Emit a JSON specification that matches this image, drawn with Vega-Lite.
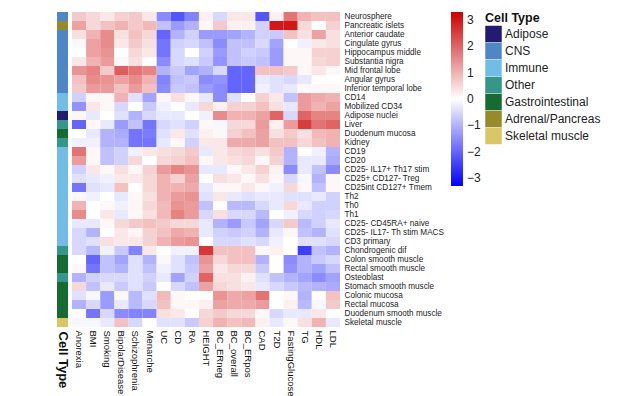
{
"$schema": "https://vega.github.io/schema/vega-lite/v6.json",
"padding": {"left": 55, "top": 11, "right": 0, "bottom": 0},
"background": "white",
"bounds": "flush",
"config": {"view": {"stroke": null}, "font": "Liberation Sans", "concat": {"spacing": 4}},
"datasets": {
"types": [
{"tissue":"Neurosphere","type":"CNS"},
{"tissue":"Pancreatic islets","type":"Adrenal/Pancreas"},
{"tissue":"Anterior caudate","type":"CNS"},
{"tissue":"Cingulate gyrus","type":"CNS"},
{"tissue":"Hippocampus middle","type":"CNS"},
{"tissue":"Substantia nigra","type":"CNS"},
{"tissue":"Mid frontal lobe","type":"CNS"},
{"tissue":"Angular gyrus","type":"CNS"},
{"tissue":"Inferior temporal lobe","type":"CNS"},
{"tissue":"CD14","type":"Immune"},
{"tissue":"Mobilized CD34","type":"Immune"},
{"tissue":"Adipose nuclei","type":"Adipose"},
{"tissue":"Liver","type":"Other"},
{"tissue":"Duodenum mucosa","type":"Gastrointestinal"},
{"tissue":"Kidney","type":"Other"},
{"tissue":"CD19","type":"Immune"},
{"tissue":"CD20","type":"Immune"},
{"tissue":"CD25- IL17+ Th17 stim","type":"Immune"},
{"tissue":"CD25+ CD127- Treg","type":"Immune"},
{"tissue":"CD25int CD127+ Tmem","type":"Immune"},
{"tissue":"Th2","type":"Immune"},
{"tissue":"Th0","type":"Immune"},
{"tissue":"Th1","type":"Immune"},
{"tissue":"CD25- CD45RA+ naive","type":"Immune"},
{"tissue":"CD25- IL17- Th stim MACS","type":"Immune"},
{"tissue":"CD3 primary","type":"Immune"},
{"tissue":"Chondrogenic dif","type":"Other"},
{"tissue":"Colon smooth muscle","type":"Gastrointestinal"},
{"tissue":"Rectal smooth muscle","type":"Gastrointestinal"},
{"tissue":"Osteoblast","type":"Other"},
{"tissue":"Stomach smooth muscle","type":"Gastrointestinal"},
{"tissue":"Colonic mucosa","type":"Gastrointestinal"},
{"tissue":"Rectal mucosa","type":"Gastrointestinal"},
{"tissue":"Duodenum smooth muscle","type":"Gastrointestinal"},
{"tissue":"Skeletal muscle","type":"Skeletal muscle"}
],
"cells": [
{"tissue":"Neurosphere","trait":"Anorexia","z":0.7},{"tissue":"Neurosphere","trait":"BMI","z":0.5},{"tissue":"Neurosphere","trait":"Smoking","z":0.3},{"tissue":"Neurosphere","trait":"BipolarDisease","z":0.6},{"tissue":"Neurosphere","trait":"Schizophrenia","z":0.7},{"tissue":"Neurosphere","trait":"Menarche","z":0.3},{"tissue":"Neurosphere","trait":"UC","z":-1.5},{"tissue":"Neurosphere","trait":"CD","z":-2.2},{"tissue":"Neurosphere","trait":"RA","z":-1.6},{"tissue":"Neurosphere","trait":"HEIGHT","z":0.2},{"tissue":"Neurosphere","trait":"BC_ERneg","z":-0.5},{"tissue":"Neurosphere","trait":"BC_overall","z":0.3},{"tissue":"Neurosphere","trait":"BC_ERpos","z":0.3},{"tissue":"Neurosphere","trait":"CAD","z":-2.2},{"tissue":"Neurosphere","trait":"T2D","z":0.2},{"tissue":"Neurosphere","trait":"FastingGlucose","z":1.8},{"tissue":"Neurosphere","trait":"TG","z":1.0},{"tissue":"Neurosphere","trait":"HDL","z":0.8},{"tissue":"Neurosphere","trait":"LDL","z":0.8},
{"tissue":"Pancreatic islets","trait":"Anorexia","z":1.2},{"tissue":"Pancreatic islets","trait":"BMI","z":0.5},{"tissue":"Pancreatic islets","trait":"Smoking","z":0.8},{"tissue":"Pancreatic islets","trait":"BipolarDisease","z":1.0},{"tissue":"Pancreatic islets","trait":"Schizophrenia","z":0.7},{"tissue":"Pancreatic islets","trait":"Menarche","z":0.9},{"tissue":"Pancreatic islets","trait":"UC","z":-0.8},{"tissue":"Pancreatic islets","trait":"CD","z":-1.3},{"tissue":"Pancreatic islets","trait":"RA","z":-1.0},{"tissue":"Pancreatic islets","trait":"HEIGHT","z":0.1},{"tissue":"Pancreatic islets","trait":"BC_ERneg","z":0.7},{"tissue":"Pancreatic islets","trait":"BC_overall","z":0.2},{"tissue":"Pancreatic islets","trait":"BC_ERpos","z":0.2},{"tissue":"Pancreatic islets","trait":"CAD","z":-0.6},{"tissue":"Pancreatic islets","trait":"T2D","z":3.0},{"tissue":"Pancreatic islets","trait":"FastingGlucose","z":3.0},{"tissue":"Pancreatic islets","trait":"TG","z":0.5},{"tissue":"Pancreatic islets","trait":"HDL","z":0.0},{"tissue":"Pancreatic islets","trait":"LDL","z":0.6},
{"tissue":"Anterior caudate","trait":"Anorexia","z":0.4},{"tissue":"Anterior caudate","trait":"BMI","z":1.0},{"tissue":"Anterior caudate","trait":"Smoking","z":1.5},{"tissue":"Anterior caudate","trait":"BipolarDisease","z":0.4},{"tissue":"Anterior caudate","trait":"Schizophrenia","z":0.8},{"tissue":"Anterior caudate","trait":"Menarche","z":0.5},{"tissue":"Anterior caudate","trait":"UC","z":-2.0},{"tissue":"Anterior caudate","trait":"CD","z":-1.0},{"tissue":"Anterior caudate","trait":"RA","z":-0.6},{"tissue":"Anterior caudate","trait":"HEIGHT","z":-1.3},{"tissue":"Anterior caudate","trait":"BC_ERneg","z":-1.3},{"tissue":"Anterior caudate","trait":"BC_overall","z":-1.2},{"tissue":"Anterior caudate","trait":"BC_ERpos","z":-1.0},{"tissue":"Anterior caudate","trait":"CAD","z":-0.6},{"tissue":"Anterior caudate","trait":"T2D","z":-0.7},{"tissue":"Anterior caudate","trait":"FastingGlucose","z":0.8},{"tissue":"Anterior caudate","trait":"TG","z":0.4},{"tissue":"Anterior caudate","trait":"HDL","z":1.2},{"tissue":"Anterior caudate","trait":"LDL","z":0.4},
{"tissue":"Cingulate gyrus","trait":"Anorexia","z":0.1},{"tissue":"Cingulate gyrus","trait":"BMI","z":1.2},{"tissue":"Cingulate gyrus","trait":"Smoking","z":1.5},{"tissue":"Cingulate gyrus","trait":"BipolarDisease","z":0.3},{"tissue":"Cingulate gyrus","trait":"Schizophrenia","z":0.7},{"tissue":"Cingulate gyrus","trait":"Menarche","z":0.4},{"tissue":"Cingulate gyrus","trait":"UC","z":-1.8},{"tissue":"Cingulate gyrus","trait":"CD","z":-0.6},{"tissue":"Cingulate gyrus","trait":"RA","z":-0.5},{"tissue":"Cingulate gyrus","trait":"HEIGHT","z":-0.8},{"tissue":"Cingulate gyrus","trait":"BC_ERneg","z":-1.5},{"tissue":"Cingulate gyrus","trait":"BC_overall","z":-0.8},{"tissue":"Cingulate gyrus","trait":"BC_ERpos","z":-0.8},{"tissue":"Cingulate gyrus","trait":"CAD","z":-0.5},{"tissue":"Cingulate gyrus","trait":"T2D","z":-1.2},{"tissue":"Cingulate gyrus","trait":"FastingGlucose","z":0.0},{"tissue":"Cingulate gyrus","trait":"TG","z":-0.2},{"tissue":"Cingulate gyrus","trait":"HDL","z":0.3},{"tissue":"Cingulate gyrus","trait":"LDL","z":0.4},
{"tissue":"Hippocampus middle","trait":"Anorexia","z":0.0},{"tissue":"Hippocampus middle","trait":"BMI","z":1.2},{"tissue":"Hippocampus middle","trait":"Smoking","z":1.4},{"tissue":"Hippocampus middle","trait":"BipolarDisease","z":0.0},{"tissue":"Hippocampus middle","trait":"Schizophrenia","z":0.5},{"tissue":"Hippocampus middle","trait":"Menarche","z":0.3},{"tissue":"Hippocampus middle","trait":"UC","z":-1.8},{"tissue":"Hippocampus middle","trait":"CD","z":-0.5},{"tissue":"Hippocampus middle","trait":"RA","z":0.0},{"tissue":"Hippocampus middle","trait":"HEIGHT","z":-0.6},{"tissue":"Hippocampus middle","trait":"BC_ERneg","z":-1.3},{"tissue":"Hippocampus middle","trait":"BC_overall","z":-0.8},{"tissue":"Hippocampus middle","trait":"BC_ERpos","z":-0.6},{"tissue":"Hippocampus middle","trait":"CAD","z":-0.7},{"tissue":"Hippocampus middle","trait":"T2D","z":-1.3},{"tissue":"Hippocampus middle","trait":"FastingGlucose","z":0.1},{"tissue":"Hippocampus middle","trait":"TG","z":0.1},{"tissue":"Hippocampus middle","trait":"HDL","z":0.6},{"tissue":"Hippocampus middle","trait":"LDL","z":0.6},
{"tissue":"Substantia nigra","trait":"Anorexia","z":0.3},{"tissue":"Substantia nigra","trait":"BMI","z":1.0},{"tissue":"Substantia nigra","trait":"Smoking","z":1.3},{"tissue":"Substantia nigra","trait":"BipolarDisease","z":0.1},{"tissue":"Substantia nigra","trait":"Schizophrenia","z":0.4},{"tissue":"Substantia nigra","trait":"Menarche","z":0.0},{"tissue":"Substantia nigra","trait":"UC","z":-1.5},{"tissue":"Substantia nigra","trait":"CD","z":-0.5},{"tissue":"Substantia nigra","trait":"RA","z":-0.4},{"tissue":"Substantia nigra","trait":"HEIGHT","z":-0.7},{"tissue":"Substantia nigra","trait":"BC_ERneg","z":-1.4},{"tissue":"Substantia nigra","trait":"BC_overall","z":-0.8},{"tissue":"Substantia nigra","trait":"BC_ERpos","z":-0.7},{"tissue":"Substantia nigra","trait":"CAD","z":-0.8},{"tissue":"Substantia nigra","trait":"T2D","z":-1.3},{"tissue":"Substantia nigra","trait":"FastingGlucose","z":0.1},{"tissue":"Substantia nigra","trait":"TG","z":0.1},{"tissue":"Substantia nigra","trait":"HDL","z":0.5},{"tissue":"Substantia nigra","trait":"LDL","z":0.6},
{"tissue":"Mid frontal lobe","trait":"Anorexia","z":1.4},{"tissue":"Mid frontal lobe","trait":"BMI","z":1.6},{"tissue":"Mid frontal lobe","trait":"Smoking","z":0.7},{"tissue":"Mid frontal lobe","trait":"BipolarDisease","z":2.1},{"tissue":"Mid frontal lobe","trait":"Schizophrenia","z":1.8},{"tissue":"Mid frontal lobe","trait":"Menarche","z":1.6},{"tissue":"Mid frontal lobe","trait":"UC","z":-1.0},{"tissue":"Mid frontal lobe","trait":"CD","z":-0.7},{"tissue":"Mid frontal lobe","trait":"RA","z":-1.2},{"tissue":"Mid frontal lobe","trait":"HEIGHT","z":-1.0},{"tissue":"Mid frontal lobe","trait":"BC_ERneg","z":-0.5},{"tissue":"Mid frontal lobe","trait":"BC_overall","z":-2.0},{"tissue":"Mid frontal lobe","trait":"BC_ERpos","z":-2.0},{"tissue":"Mid frontal lobe","trait":"CAD","z":0.8},{"tissue":"Mid frontal lobe","trait":"T2D","z":0.8},{"tissue":"Mid frontal lobe","trait":"FastingGlucose","z":0.7},{"tissue":"Mid frontal lobe","trait":"TG","z":0.1},{"tissue":"Mid frontal lobe","trait":"HDL","z":0.3},{"tissue":"Mid frontal lobe","trait":"LDL","z":0.1},
{"tissue":"Angular gyrus","trait":"Anorexia","z":0.8},{"tissue":"Angular gyrus","trait":"BMI","z":1.5},{"tissue":"Angular gyrus","trait":"Smoking","z":1.4},{"tissue":"Angular gyrus","trait":"BipolarDisease","z":1.2},{"tissue":"Angular gyrus","trait":"Schizophrenia","z":1.5},{"tissue":"Angular gyrus","trait":"Menarche","z":1.0},{"tissue":"Angular gyrus","trait":"UC","z":-1.6},{"tissue":"Angular gyrus","trait":"CD","z":-0.8},{"tissue":"Angular gyrus","trait":"RA","z":-0.7},{"tissue":"Angular gyrus","trait":"HEIGHT","z":-1.5},{"tissue":"Angular gyrus","trait":"BC_ERneg","z":-1.4},{"tissue":"Angular gyrus","trait":"BC_overall","z":-2.0},{"tissue":"Angular gyrus","trait":"BC_ERpos","z":-2.0},{"tissue":"Angular gyrus","trait":"CAD","z":-0.3},{"tissue":"Angular gyrus","trait":"T2D","z":-0.4},{"tissue":"Angular gyrus","trait":"FastingGlucose","z":-0.5},{"tissue":"Angular gyrus","trait":"TG","z":-0.3},{"tissue":"Angular gyrus","trait":"HDL","z":0.0},{"tissue":"Angular gyrus","trait":"LDL","z":0.0},
{"tissue":"Inferior temporal lobe","trait":"Anorexia","z":0.7},{"tissue":"Inferior temporal lobe","trait":"BMI","z":1.3},{"tissue":"Inferior temporal lobe","trait":"Smoking","z":1.3},{"tissue":"Inferior temporal lobe","trait":"BipolarDisease","z":0.8},{"tissue":"Inferior temporal lobe","trait":"Schizophrenia","z":1.3},{"tissue":"Inferior temporal lobe","trait":"Menarche","z":0.8},{"tissue":"Inferior temporal lobe","trait":"UC","z":-1.5},{"tissue":"Inferior temporal lobe","trait":"CD","z":-0.7},{"tissue":"Inferior temporal lobe","trait":"RA","z":-0.8},{"tissue":"Inferior temporal lobe","trait":"HEIGHT","z":-1.3},{"tissue":"Inferior temporal lobe","trait":"BC_ERneg","z":-1.5},{"tissue":"Inferior temporal lobe","trait":"BC_overall","z":-2.0},{"tissue":"Inferior temporal lobe","trait":"BC_ERpos","z":-2.0},{"tissue":"Inferior temporal lobe","trait":"CAD","z":-0.2},{"tissue":"Inferior temporal lobe","trait":"T2D","z":-0.4},{"tissue":"Inferior temporal lobe","trait":"FastingGlucose","z":-0.3},{"tissue":"Inferior temporal lobe","trait":"TG","z":0.1},{"tissue":"Inferior temporal lobe","trait":"HDL","z":0.1},{"tissue":"Inferior temporal lobe","trait":"LDL","z":0.1},
{"tissue":"CD14","trait":"Anorexia","z":-0.6},{"tissue":"CD14","trait":"BMI","z":0.1},{"tissue":"CD14","trait":"Smoking","z":0.1},{"tissue":"CD14","trait":"BipolarDisease","z":1.0},{"tissue":"CD14","trait":"Schizophrenia","z":-0.4},{"tissue":"CD14","trait":"Menarche","z":-1.2},{"tissue":"CD14","trait":"UC","z":0.1},{"tissue":"CD14","trait":"CD","z":0.4},{"tissue":"CD14","trait":"RA","z":0.1},{"tissue":"CD14","trait":"HEIGHT","z":-0.3},{"tissue":"CD14","trait":"BC_ERneg","z":-1.5},{"tissue":"CD14","trait":"BC_overall","z":-0.4},{"tissue":"CD14","trait":"BC_ERpos","z":0.0},{"tissue":"CD14","trait":"CAD","z":0.6},{"tissue":"CD14","trait":"T2D","z":0.3},{"tissue":"CD14","trait":"FastingGlucose","z":-0.8},{"tissue":"CD14","trait":"TG","z":1.3},{"tissue":"CD14","trait":"HDL","z":1.1},{"tissue":"CD14","trait":"LDL","z":1.0},
{"tissue":"Mobilized CD34","trait":"Anorexia","z":-1.4},{"tissue":"Mobilized CD34","trait":"BMI","z":0.3},{"tissue":"Mobilized CD34","trait":"Smoking","z":0.1},{"tissue":"Mobilized CD34","trait":"BipolarDisease","z":-0.5},{"tissue":"Mobilized CD34","trait":"Schizophrenia","z":0.0},{"tissue":"Mobilized CD34","trait":"Menarche","z":-0.7},{"tissue":"Mobilized CD34","trait":"UC","z":-0.2},{"tissue":"Mobilized CD34","trait":"CD","z":0.0},{"tissue":"Mobilized CD34","trait":"RA","z":-0.3},{"tissue":"Mobilized CD34","trait":"HEIGHT","z":0.5},{"tissue":"Mobilized CD34","trait":"BC_ERneg","z":0.2},{"tissue":"Mobilized CD34","trait":"BC_overall","z":0.6},{"tissue":"Mobilized CD34","trait":"BC_ERpos","z":0.6},{"tissue":"Mobilized CD34","trait":"CAD","z":0.8},{"tissue":"Mobilized CD34","trait":"T2D","z":0.4},{"tissue":"Mobilized CD34","trait":"FastingGlucose","z":-0.3},{"tissue":"Mobilized CD34","trait":"TG","z":1.3},{"tissue":"Mobilized CD34","trait":"HDL","z":1.0},{"tissue":"Mobilized CD34","trait":"LDL","z":1.2},
{"tissue":"Adipose nuclei","trait":"Anorexia","z":0.1},{"tissue":"Adipose nuclei","trait":"BMI","z":-0.3},{"tissue":"Adipose nuclei","trait":"Smoking","z":0.0},{"tissue":"Adipose nuclei","trait":"BipolarDisease","z":-0.4},{"tissue":"Adipose nuclei","trait":"Schizophrenia","z":-1.0},{"tissue":"Adipose nuclei","trait":"Menarche","z":-0.5},{"tissue":"Adipose nuclei","trait":"UC","z":-0.3},{"tissue":"Adipose nuclei","trait":"CD","z":-0.3},{"tissue":"Adipose nuclei","trait":"RA","z":0.0},{"tissue":"Adipose nuclei","trait":"HEIGHT","z":-0.2},{"tissue":"Adipose nuclei","trait":"BC_ERneg","z":1.5},{"tissue":"Adipose nuclei","trait":"BC_overall","z":1.0},{"tissue":"Adipose nuclei","trait":"BC_ERpos","z":1.0},{"tissue":"Adipose nuclei","trait":"CAD","z":1.2},{"tissue":"Adipose nuclei","trait":"T2D","z":2.0},{"tissue":"Adipose nuclei","trait":"FastingGlucose","z":-0.5},{"tissue":"Adipose nuclei","trait":"TG","z":2.0},{"tissue":"Adipose nuclei","trait":"HDL","z":1.6},{"tissue":"Adipose nuclei","trait":"LDL","z":1.6},
{"tissue":"Liver","trait":"Anorexia","z":-2.0},{"tissue":"Liver","trait":"BMI","z":0.1},{"tissue":"Liver","trait":"Smoking","z":-0.3},{"tissue":"Liver","trait":"BipolarDisease","z":-1.3},{"tissue":"Liver","trait":"Schizophrenia","z":-0.8},{"tissue":"Liver","trait":"Menarche","z":-1.8},{"tissue":"Liver","trait":"UC","z":-0.5},{"tissue":"Liver","trait":"CD","z":-0.4},{"tissue":"Liver","trait":"RA","z":-0.6},{"tissue":"Liver","trait":"HEIGHT","z":0.1},{"tissue":"Liver","trait":"BC_ERneg","z":-0.1},{"tissue":"Liver","trait":"BC_overall","z":0.5},{"tissue":"Liver","trait":"BC_ERpos","z":0.5},{"tissue":"Liver","trait":"CAD","z":1.3},{"tissue":"Liver","trait":"T2D","z":0.2},{"tissue":"Liver","trait":"FastingGlucose","z":1.3},{"tissue":"Liver","trait":"TG","z":2.5},{"tissue":"Liver","trait":"HDL","z":1.8},{"tissue":"Liver","trait":"LDL","z":2.0},
{"tissue":"Duodenum mucosa","trait":"Anorexia","z":0.0},{"tissue":"Duodenum mucosa","trait":"BMI","z":-0.3},{"tissue":"Duodenum mucosa","trait":"Smoking","z":-1.0},{"tissue":"Duodenum mucosa","trait":"BipolarDisease","z":-1.1},{"tissue":"Duodenum mucosa","trait":"Schizophrenia","z":-1.8},{"tissue":"Duodenum mucosa","trait":"Menarche","z":-1.7},{"tissue":"Duodenum mucosa","trait":"UC","z":-0.4},{"tissue":"Duodenum mucosa","trait":"CD","z":0.3},{"tissue":"Duodenum mucosa","trait":"RA","z":-0.4},{"tissue":"Duodenum mucosa","trait":"HEIGHT","z":0.2},{"tissue":"Duodenum mucosa","trait":"BC_ERneg","z":0.1},{"tissue":"Duodenum mucosa","trait":"BC_overall","z":0.6},{"tissue":"Duodenum mucosa","trait":"BC_ERpos","z":0.8},{"tissue":"Duodenum mucosa","trait":"CAD","z":1.2},{"tissue":"Duodenum mucosa","trait":"T2D","z":0.4},{"tissue":"Duodenum mucosa","trait":"FastingGlucose","z":0.7},{"tissue":"Duodenum mucosa","trait":"TG","z":0.4},{"tissue":"Duodenum mucosa","trait":"HDL","z":0.9},{"tissue":"Duodenum mucosa","trait":"LDL","z":1.0},
{"tissue":"Kidney","trait":"Anorexia","z":-0.2},{"tissue":"Kidney","trait":"BMI","z":-0.2},{"tissue":"Kidney","trait":"Smoking","z":-1.0},{"tissue":"Kidney","trait":"BipolarDisease","z":-1.0},{"tissue":"Kidney","trait":"Schizophrenia","z":-1.8},{"tissue":"Kidney","trait":"Menarche","z":-1.8},{"tissue":"Kidney","trait":"UC","z":-0.3},{"tissue":"Kidney","trait":"CD","z":0.1},{"tissue":"Kidney","trait":"RA","z":-0.6},{"tissue":"Kidney","trait":"HEIGHT","z":0.3},{"tissue":"Kidney","trait":"BC_ERneg","z":0.3},{"tissue":"Kidney","trait":"BC_overall","z":1.1},{"tissue":"Kidney","trait":"BC_ERpos","z":1.1},{"tissue":"Kidney","trait":"CAD","z":1.2},{"tissue":"Kidney","trait":"T2D","z":0.8},{"tissue":"Kidney","trait":"FastingGlucose","z":0.8},{"tissue":"Kidney","trait":"TG","z":0.5},{"tissue":"Kidney","trait":"HDL","z":0.8},{"tissue":"Kidney","trait":"LDL","z":1.0},
{"tissue":"CD19","trait":"Anorexia","z":1.8},{"tissue":"CD19","trait":"BMI","z":0.1},{"tissue":"CD19","trait":"Smoking","z":-0.8},{"tissue":"CD19","trait":"BipolarDisease","z":-0.6},{"tissue":"CD19","trait":"Schizophrenia","z":-0.2},{"tissue":"CD19","trait":"Menarche","z":0.3},{"tissue":"CD19","trait":"UC","z":0.4},{"tissue":"CD19","trait":"CD","z":0.5},{"tissue":"CD19","trait":"RA","z":0.7},{"tissue":"CD19","trait":"HEIGHT","z":-0.3},{"tissue":"CD19","trait":"BC_ERneg","z":0.3},{"tissue":"CD19","trait":"BC_overall","z":0.5},{"tissue":"CD19","trait":"BC_ERpos","z":0.6},{"tissue":"CD19","trait":"CAD","z":0.4},{"tissue":"CD19","trait":"T2D","z":0.7},{"tissue":"CD19","trait":"FastingGlucose","z":-1.0},{"tissue":"CD19","trait":"TG","z":0.0},{"tissue":"CD19","trait":"HDL","z":-0.2},{"tissue":"CD19","trait":"LDL","z":-1.0},
{"tissue":"CD20","trait":"Anorexia","z":1.3},{"tissue":"CD20","trait":"BMI","z":0.1},{"tissue":"CD20","trait":"Smoking","z":-0.8},{"tissue":"CD20","trait":"BipolarDisease","z":-0.6},{"tissue":"CD20","trait":"Schizophrenia","z":0.5},{"tissue":"CD20","trait":"Menarche","z":0.0},{"tissue":"CD20","trait":"UC","z":0.5},{"tissue":"CD20","trait":"CD","z":0.6},{"tissue":"CD20","trait":"RA","z":0.8},{"tissue":"CD20","trait":"HEIGHT","z":0.1},{"tissue":"CD20","trait":"BC_ERneg","z":0.3},{"tissue":"CD20","trait":"BC_overall","z":0.4},{"tissue":"CD20","trait":"BC_ERpos","z":0.5},{"tissue":"CD20","trait":"CAD","z":0.1},{"tissue":"CD20","trait":"T2D","z":0.6},{"tissue":"CD20","trait":"FastingGlucose","z":-1.0},{"tissue":"CD20","trait":"TG","z":-0.3},{"tissue":"CD20","trait":"HDL","z":-0.3},{"tissue":"CD20","trait":"LDL","z":-1.1},
{"tissue":"CD25- IL17+ Th17 stim","trait":"Anorexia","z":-0.6},{"tissue":"CD25- IL17+ Th17 stim","trait":"BMI","z":0.3},{"tissue":"CD25- IL17+ Th17 stim","trait":"Smoking","z":0.1},{"tissue":"CD25- IL17+ Th17 stim","trait":"BipolarDisease","z":0.4},{"tissue":"CD25- IL17+ Th17 stim","trait":"Schizophrenia","z":0.1},{"tissue":"CD25- IL17+ Th17 stim","trait":"Menarche","z":0.6},{"tissue":"CD25- IL17+ Th17 stim","trait":"UC","z":1.3},{"tissue":"CD25- IL17+ Th17 stim","trait":"CD","z":1.6},{"tissue":"CD25- IL17+ Th17 stim","trait":"RA","z":1.4},{"tissue":"CD25- IL17+ Th17 stim","trait":"HEIGHT","z":-0.3},{"tissue":"CD25- IL17+ Th17 stim","trait":"BC_ERneg","z":-0.3},{"tissue":"CD25- IL17+ Th17 stim","trait":"BC_overall","z":0.1},{"tissue":"CD25- IL17+ Th17 stim","trait":"BC_ERpos","z":0.3},{"tissue":"CD25- IL17+ Th17 stim","trait":"CAD","z":0.6},{"tissue":"CD25- IL17+ Th17 stim","trait":"T2D","z":0.2},{"tissue":"CD25- IL17+ Th17 stim","trait":"FastingGlucose","z":-1.5},{"tissue":"CD25- IL17+ Th17 stim","trait":"TG","z":-0.3},{"tissue":"CD25- IL17+ Th17 stim","trait":"HDL","z":-0.8},{"tissue":"CD25- IL17+ Th17 stim","trait":"LDL","z":-1.5},
{"tissue":"CD25+ CD127- Treg","trait":"Anorexia","z":-0.4},{"tissue":"CD25+ CD127- Treg","trait":"BMI","z":-0.3},{"tissue":"CD25+ CD127- Treg","trait":"Smoking","z":-0.2},{"tissue":"CD25+ CD127- Treg","trait":"BipolarDisease","z":0.3},{"tissue":"CD25+ CD127- Treg","trait":"Schizophrenia","z":0.3},{"tissue":"CD25+ CD127- Treg","trait":"Menarche","z":0.5},{"tissue":"CD25+ CD127- Treg","trait":"UC","z":1.0},{"tissue":"CD25+ CD127- Treg","trait":"CD","z":0.6},{"tissue":"CD25+ CD127- Treg","trait":"RA","z":1.2},{"tissue":"CD25+ CD127- Treg","trait":"HEIGHT","z":0.0},{"tissue":"CD25+ CD127- Treg","trait":"BC_ERneg","z":0.4},{"tissue":"CD25+ CD127- Treg","trait":"BC_overall","z":0.3},{"tissue":"CD25+ CD127- Treg","trait":"BC_ERpos","z":0.1},{"tissue":"CD25+ CD127- Treg","trait":"CAD","z":0.4},{"tissue":"CD25+ CD127- Treg","trait":"T2D","z":0.1},{"tissue":"CD25+ CD127- Treg","trait":"FastingGlucose","z":-0.5},{"tissue":"CD25+ CD127- Treg","trait":"TG","z":-0.1},{"tissue":"CD25+ CD127- Treg","trait":"HDL","z":-1.0},{"tissue":"CD25+ CD127- Treg","trait":"LDL","z":0.1},
{"tissue":"CD25int CD127+ Tmem","trait":"Anorexia","z":-1.8},{"tissue":"CD25int CD127+ Tmem","trait":"BMI","z":-0.4},{"tissue":"CD25int CD127+ Tmem","trait":"Smoking","z":-0.3},{"tissue":"CD25int CD127+ Tmem","trait":"BipolarDisease","z":0.8},{"tissue":"CD25int CD127+ Tmem","trait":"Schizophrenia","z":0.0},{"tissue":"CD25int CD127+ Tmem","trait":"Menarche","z":0.5},{"tissue":"CD25int CD127+ Tmem","trait":"UC","z":1.0},{"tissue":"CD25int CD127+ Tmem","trait":"CD","z":1.0},{"tissue":"CD25int CD127+ Tmem","trait":"RA","z":1.1},{"tissue":"CD25int CD127+ Tmem","trait":"HEIGHT","z":-0.3},{"tissue":"CD25int CD127+ Tmem","trait":"BC_ERneg","z":0.1},{"tissue":"CD25int CD127+ Tmem","trait":"BC_overall","z":0.1},{"tissue":"CD25int CD127+ Tmem","trait":"BC_ERpos","z":0.3},{"tissue":"CD25int CD127+ Tmem","trait":"CAD","z":0.1},{"tissue":"CD25int CD127+ Tmem","trait":"T2D","z":-0.2},{"tissue":"CD25int CD127+ Tmem","trait":"FastingGlucose","z":0.5},{"tissue":"CD25int CD127+ Tmem","trait":"TG","z":0.1},{"tissue":"CD25int CD127+ Tmem","trait":"HDL","z":-0.8},{"tissue":"CD25int CD127+ Tmem","trait":"LDL","z":0.1},
{"tissue":"Th2","trait":"Anorexia","z":0.1},{"tissue":"Th2","trait":"BMI","z":-0.2},{"tissue":"Th2","trait":"Smoking","z":0.0},{"tissue":"Th2","trait":"BipolarDisease","z":-0.3},{"tissue":"Th2","trait":"Schizophrenia","z":0.1},{"tissue":"Th2","trait":"Menarche","z":0.4},{"tissue":"Th2","trait":"UC","z":1.0},{"tissue":"Th2","trait":"CD","z":1.3},{"tissue":"Th2","trait":"RA","z":1.4},{"tissue":"Th2","trait":"HEIGHT","z":-0.4},{"tissue":"Th2","trait":"BC_ERneg","z":0.3},{"tissue":"Th2","trait":"BC_overall","z":-0.3},{"tissue":"Th2","trait":"BC_ERpos","z":-0.4},{"tissue":"Th2","trait":"CAD","z":-0.3},{"tissue":"Th2","trait":"T2D","z":-0.3},{"tissue":"Th2","trait":"FastingGlucose","z":-0.4},{"tissue":"Th2","trait":"TG","z":-0.4},{"tissue":"Th2","trait":"HDL","z":-0.3},{"tissue":"Th2","trait":"LDL","z":-0.6},
{"tissue":"Th0","trait":"Anorexia","z":1.0},{"tissue":"Th0","trait":"BMI","z":0.0},{"tissue":"Th0","trait":"Smoking","z":0.1},{"tissue":"Th0","trait":"BipolarDisease","z":-0.2},{"tissue":"Th0","trait":"Schizophrenia","z":0.1},{"tissue":"Th0","trait":"Menarche","z":0.5},{"tissue":"Th0","trait":"UC","z":0.9},{"tissue":"Th0","trait":"CD","z":1.4},{"tissue":"Th0","trait":"RA","z":1.3},{"tissue":"Th0","trait":"HEIGHT","z":-0.8},{"tissue":"Th0","trait":"BC_ERneg","z":0.0},{"tissue":"Th0","trait":"BC_overall","z":-0.9},{"tissue":"Th0","trait":"BC_ERpos","z":-0.9},{"tissue":"Th0","trait":"CAD","z":-0.5},{"tissue":"Th0","trait":"T2D","z":-0.3},{"tissue":"Th0","trait":"FastingGlucose","z":0.5},{"tissue":"Th0","trait":"TG","z":-0.3},{"tissue":"Th0","trait":"HDL","z":-0.6},{"tissue":"Th0","trait":"LDL","z":-0.6},
{"tissue":"Th1","trait":"Anorexia","z":1.5},{"tissue":"Th1","trait":"BMI","z":0.0},{"tissue":"Th1","trait":"Smoking","z":0.3},{"tissue":"Th1","trait":"BipolarDisease","z":-0.3},{"tissue":"Th1","trait":"Schizophrenia","z":0.1},{"tissue":"Th1","trait":"Menarche","z":0.4},{"tissue":"Th1","trait":"UC","z":0.9},{"tissue":"Th1","trait":"CD","z":1.6},{"tissue":"Th1","trait":"RA","z":1.3},{"tissue":"Th1","trait":"HEIGHT","z":-0.5},{"tissue":"Th1","trait":"BC_ERneg","z":0.4},{"tissue":"Th1","trait":"BC_overall","z":-0.5},{"tissue":"Th1","trait":"BC_ERpos","z":-0.5},{"tissue":"Th1","trait":"CAD","z":-0.9},{"tissue":"Th1","trait":"T2D","z":0.0},{"tissue":"Th1","trait":"FastingGlucose","z":-0.2},{"tissue":"Th1","trait":"TG","z":-0.5},{"tissue":"Th1","trait":"HDL","z":-0.6},{"tissue":"Th1","trait":"LDL","z":-0.5},
{"tissue":"CD25- CD45RA+ naive","trait":"Anorexia","z":-0.3},{"tissue":"CD25- CD45RA+ naive","trait":"BMI","z":-0.3},{"tissue":"CD25- CD45RA+ naive","trait":"Smoking","z":0.1},{"tissue":"CD25- CD45RA+ naive","trait":"BipolarDisease","z":0.5},{"tissue":"CD25- CD45RA+ naive","trait":"Schizophrenia","z":0.7},{"tissue":"CD25- CD45RA+ naive","trait":"Menarche","z":0.8},{"tissue":"CD25- CD45RA+ naive","trait":"UC","z":0.7},{"tissue":"CD25- CD45RA+ naive","trait":"CD","z":0.5},{"tissue":"CD25- CD45RA+ naive","trait":"RA","z":0.5},{"tissue":"CD25- CD45RA+ naive","trait":"HEIGHT","z":-0.3},{"tissue":"CD25- CD45RA+ naive","trait":"BC_ERneg","z":-1.0},{"tissue":"CD25- CD45RA+ naive","trait":"BC_overall","z":-1.3},{"tissue":"CD25- CD45RA+ naive","trait":"BC_ERpos","z":-0.7},{"tissue":"CD25- CD45RA+ naive","trait":"CAD","z":-1.2},{"tissue":"CD25- CD45RA+ naive","trait":"T2D","z":-0.5},{"tissue":"CD25- CD45RA+ naive","trait":"FastingGlucose","z":0.7},{"tissue":"CD25- CD45RA+ naive","trait":"TG","z":-0.9},{"tissue":"CD25- CD45RA+ naive","trait":"HDL","z":-0.6},{"tissue":"CD25- CD45RA+ naive","trait":"LDL","z":-0.3},
{"tissue":"CD25- IL17- Th stim MACS","trait":"Anorexia","z":-0.5},{"tissue":"CD25- IL17- Th stim MACS","trait":"BMI","z":-1.0},{"tissue":"CD25- IL17- Th stim MACS","trait":"Smoking","z":0.0},{"tissue":"CD25- IL17- Th stim MACS","trait":"BipolarDisease","z":0.3},{"tissue":"CD25- IL17- Th stim MACS","trait":"Schizophrenia","z":0.1},{"tissue":"CD25- IL17- Th stim MACS","trait":"Menarche","z":0.6},{"tissue":"CD25- IL17- Th stim MACS","trait":"UC","z":0.8},{"tissue":"CD25- IL17- Th stim MACS","trait":"CD","z":1.1},{"tissue":"CD25- IL17- Th stim MACS","trait":"RA","z":1.0},{"tissue":"CD25- IL17- Th stim MACS","trait":"HEIGHT","z":-0.3},{"tissue":"CD25- IL17- Th stim MACS","trait":"BC_ERneg","z":-0.6},{"tissue":"CD25- IL17- Th stim MACS","trait":"BC_overall","z":-0.7},{"tissue":"CD25- IL17- Th stim MACS","trait":"BC_ERpos","z":-0.6},{"tissue":"CD25- IL17- Th stim MACS","trait":"CAD","z":-1.0},{"tissue":"CD25- IL17- Th stim MACS","trait":"T2D","z":-0.3},{"tissue":"CD25- IL17- Th stim MACS","trait":"FastingGlucose","z":0.1},{"tissue":"CD25- IL17- Th stim MACS","trait":"TG","z":-0.8},{"tissue":"CD25- IL17- Th stim MACS","trait":"HDL","z":-1.0},{"tissue":"CD25- IL17- Th stim MACS","trait":"LDL","z":-0.4},
{"tissue":"CD3 primary","trait":"Anorexia","z":-0.5},{"tissue":"CD3 primary","trait":"BMI","z":-0.4},{"tissue":"CD3 primary","trait":"Smoking","z":0.4},{"tissue":"CD3 primary","trait":"BipolarDisease","z":0.3},{"tissue":"CD3 primary","trait":"Schizophrenia","z":0.3},{"tissue":"CD3 primary","trait":"Menarche","z":0.6},{"tissue":"CD3 primary","trait":"UC","z":1.0},{"tissue":"CD3 primary","trait":"CD","z":1.3},{"tissue":"CD3 primary","trait":"RA","z":1.4},{"tissue":"CD3 primary","trait":"HEIGHT","z":0.0},{"tissue":"CD3 primary","trait":"BC_ERneg","z":-0.5},{"tissue":"CD3 primary","trait":"BC_overall","z":-0.5},{"tissue":"CD3 primary","trait":"BC_ERpos","z":-0.4},{"tissue":"CD3 primary","trait":"CAD","z":-0.5},{"tissue":"CD3 primary","trait":"T2D","z":-0.2},{"tissue":"CD3 primary","trait":"FastingGlucose","z":0.0},{"tissue":"CD3 primary","trait":"TG","z":-0.4},{"tissue":"CD3 primary","trait":"HDL","z":-0.4},{"tissue":"CD3 primary","trait":"LDL","z":-0.5},
{"tissue":"Chondrogenic dif","trait":"Anorexia","z":-0.5},{"tissue":"Chondrogenic dif","trait":"BMI","z":-0.9},{"tissue":"Chondrogenic dif","trait":"Smoking","z":-0.2},{"tissue":"Chondrogenic dif","trait":"BipolarDisease","z":-0.7},{"tissue":"Chondrogenic dif","trait":"Schizophrenia","z":-1.6},{"tissue":"Chondrogenic dif","trait":"Menarche","z":0.3},{"tissue":"Chondrogenic dif","trait":"UC","z":0.0},{"tissue":"Chondrogenic dif","trait":"CD","z":-0.2},{"tissue":"Chondrogenic dif","trait":"RA","z":-0.2},{"tissue":"Chondrogenic dif","trait":"HEIGHT","z":2.6},{"tissue":"Chondrogenic dif","trait":"BC_ERneg","z":0.8},{"tissue":"Chondrogenic dif","trait":"BC_overall","z":0.8},{"tissue":"Chondrogenic dif","trait":"BC_ERpos","z":0.8},{"tissue":"Chondrogenic dif","trait":"CAD","z":0.1},{"tissue":"Chondrogenic dif","trait":"T2D","z":0.2},{"tissue":"Chondrogenic dif","trait":"FastingGlucose","z":0.0},{"tissue":"Chondrogenic dif","trait":"TG","z":-2.5},{"tissue":"Chondrogenic dif","trait":"HDL","z":-0.8},{"tissue":"Chondrogenic dif","trait":"LDL","z":-1.0},
{"tissue":"Colon smooth muscle","trait":"Anorexia","z":0.0},{"tissue":"Colon smooth muscle","trait":"BMI","z":-2.0},{"tissue":"Colon smooth muscle","trait":"Smoking","z":-0.8},{"tissue":"Colon smooth muscle","trait":"BipolarDisease","z":-1.2},{"tissue":"Colon smooth muscle","trait":"Schizophrenia","z":-0.4},{"tissue":"Colon smooth muscle","trait":"Menarche","z":-1.0},{"tissue":"Colon smooth muscle","trait":"UC","z":0.1},{"tissue":"Colon smooth muscle","trait":"CD","z":-0.4},{"tissue":"Colon smooth muscle","trait":"RA","z":-0.8},{"tissue":"Colon smooth muscle","trait":"HEIGHT","z":1.4},{"tissue":"Colon smooth muscle","trait":"BC_ERneg","z":0.5},{"tissue":"Colon smooth muscle","trait":"BC_overall","z":0.8},{"tissue":"Colon smooth muscle","trait":"BC_ERpos","z":0.8},{"tissue":"Colon smooth muscle","trait":"CAD","z":-1.0},{"tissue":"Colon smooth muscle","trait":"T2D","z":0.0},{"tissue":"Colon smooth muscle","trait":"FastingGlucose","z":-1.5},{"tissue":"Colon smooth muscle","trait":"TG","z":-1.0},{"tissue":"Colon smooth muscle","trait":"HDL","z":-0.7},{"tissue":"Colon smooth muscle","trait":"LDL","z":-0.5},
{"tissue":"Rectal smooth muscle","trait":"Anorexia","z":0.1},{"tissue":"Rectal smooth muscle","trait":"BMI","z":-1.8},{"tissue":"Rectal smooth muscle","trait":"Smoking","z":-0.8},{"tissue":"Rectal smooth muscle","trait":"BipolarDisease","z":-1.0},{"tissue":"Rectal smooth muscle","trait":"Schizophrenia","z":-0.4},{"tissue":"Rectal smooth muscle","trait":"Menarche","z":-0.8},{"tissue":"Rectal smooth muscle","trait":"UC","z":-0.2},{"tissue":"Rectal smooth muscle","trait":"CD","z":-0.4},{"tissue":"Rectal smooth muscle","trait":"RA","z":-0.7},{"tissue":"Rectal smooth muscle","trait":"HEIGHT","z":1.2},{"tissue":"Rectal smooth muscle","trait":"BC_ERneg","z":0.3},{"tissue":"Rectal smooth muscle","trait":"BC_overall","z":0.5},{"tissue":"Rectal smooth muscle","trait":"BC_ERpos","z":0.5},{"tissue":"Rectal smooth muscle","trait":"CAD","z":-0.7},{"tissue":"Rectal smooth muscle","trait":"T2D","z":0.0},{"tissue":"Rectal smooth muscle","trait":"FastingGlucose","z":-1.4},{"tissue":"Rectal smooth muscle","trait":"TG","z":-1.0},{"tissue":"Rectal smooth muscle","trait":"HDL","z":-1.2},{"tissue":"Rectal smooth muscle","trait":"LDL","z":-0.8},
{"tissue":"Osteoblast","trait":"Anorexia","z":-1.0},{"tissue":"Osteoblast","trait":"BMI","z":-0.6},{"tissue":"Osteoblast","trait":"Smoking","z":-0.5},{"tissue":"Osteoblast","trait":"BipolarDisease","z":-0.5},{"tissue":"Osteoblast","trait":"Schizophrenia","z":-0.4},{"tissue":"Osteoblast","trait":"Menarche","z":-0.6},{"tissue":"Osteoblast","trait":"UC","z":-0.3},{"tissue":"Osteoblast","trait":"CD","z":-1.2},{"tissue":"Osteoblast","trait":"RA","z":-0.6},{"tissue":"Osteoblast","trait":"HEIGHT","z":2.0},{"tissue":"Osteoblast","trait":"BC_ERneg","z":0.4},{"tissue":"Osteoblast","trait":"BC_overall","z":0.4},{"tissue":"Osteoblast","trait":"BC_ERpos","z":0.2},{"tissue":"Osteoblast","trait":"CAD","z":-0.4},{"tissue":"Osteoblast","trait":"T2D","z":-0.8},{"tissue":"Osteoblast","trait":"FastingGlucose","z":-1.0},{"tissue":"Osteoblast","trait":"TG","z":-1.2},{"tissue":"Osteoblast","trait":"HDL","z":-1.5},{"tissue":"Osteoblast","trait":"LDL","z":-1.2},
{"tissue":"Stomach smooth muscle","trait":"Anorexia","z":0.5},{"tissue":"Stomach smooth muscle","trait":"BMI","z":-0.8},{"tissue":"Stomach smooth muscle","trait":"Smoking","z":-0.3},{"tissue":"Stomach smooth muscle","trait":"BipolarDisease","z":-0.7},{"tissue":"Stomach smooth muscle","trait":"Schizophrenia","z":-0.4},{"tissue":"Stomach smooth muscle","trait":"Menarche","z":-0.7},{"tissue":"Stomach smooth muscle","trait":"UC","z":0.0},{"tissue":"Stomach smooth muscle","trait":"CD","z":-0.5},{"tissue":"Stomach smooth muscle","trait":"RA","z":-0.8},{"tissue":"Stomach smooth muscle","trait":"HEIGHT","z":1.2},{"tissue":"Stomach smooth muscle","trait":"BC_ERneg","z":0.5},{"tissue":"Stomach smooth muscle","trait":"BC_overall","z":0.4},{"tissue":"Stomach smooth muscle","trait":"BC_ERpos","z":0.3},{"tissue":"Stomach smooth muscle","trait":"CAD","z":-0.3},{"tissue":"Stomach smooth muscle","trait":"T2D","z":-0.5},{"tissue":"Stomach smooth muscle","trait":"FastingGlucose","z":-0.7},{"tissue":"Stomach smooth muscle","trait":"TG","z":-0.9},{"tissue":"Stomach smooth muscle","trait":"HDL","z":-1.0},{"tissue":"Stomach smooth muscle","trait":"LDL","z":-1.1},
{"tissue":"Colonic mucosa","trait":"Anorexia","z":-0.4},{"tissue":"Colonic mucosa","trait":"BMI","z":-0.1},{"tissue":"Colonic mucosa","trait":"Smoking","z":-1.3},{"tissue":"Colonic mucosa","trait":"BipolarDisease","z":0.1},{"tissue":"Colonic mucosa","trait":"Schizophrenia","z":-0.9},{"tissue":"Colonic mucosa","trait":"Menarche","z":-0.4},{"tissue":"Colonic mucosa","trait":"UC","z":0.9},{"tissue":"Colonic mucosa","trait":"CD","z":0.1},{"tissue":"Colonic mucosa","trait":"RA","z":0.0},{"tissue":"Colonic mucosa","trait":"HEIGHT","z":0.0},{"tissue":"Colonic mucosa","trait":"BC_ERneg","z":1.4},{"tissue":"Colonic mucosa","trait":"BC_overall","z":1.1},{"tissue":"Colonic mucosa","trait":"BC_ERpos","z":1.2},{"tissue":"Colonic mucosa","trait":"CAD","z":1.8},{"tissue":"Colonic mucosa","trait":"T2D","z":0.0},{"tissue":"Colonic mucosa","trait":"FastingGlucose","z":0.1},{"tissue":"Colonic mucosa","trait":"TG","z":-1.0},{"tissue":"Colonic mucosa","trait":"HDL","z":0.0},{"tissue":"Colonic mucosa","trait":"LDL","z":0.8},
{"tissue":"Rectal mucosa","trait":"Anorexia","z":-1.0},{"tissue":"Rectal mucosa","trait":"BMI","z":-0.5},{"tissue":"Rectal mucosa","trait":"Smoking","z":-1.3},{"tissue":"Rectal mucosa","trait":"BipolarDisease","z":-0.3},{"tissue":"Rectal mucosa","trait":"Schizophrenia","z":-0.9},{"tissue":"Rectal mucosa","trait":"Menarche","z":-0.5},{"tissue":"Rectal mucosa","trait":"UC","z":0.8},{"tissue":"Rectal mucosa","trait":"CD","z":0.1},{"tissue":"Rectal mucosa","trait":"RA","z":0.1},{"tissue":"Rectal mucosa","trait":"HEIGHT","z":0.2},{"tissue":"Rectal mucosa","trait":"BC_ERneg","z":1.2},{"tissue":"Rectal mucosa","trait":"BC_overall","z":1.1},{"tissue":"Rectal mucosa","trait":"BC_ERpos","z":1.1},{"tissue":"Rectal mucosa","trait":"CAD","z":1.3},{"tissue":"Rectal mucosa","trait":"T2D","z":0.0},{"tissue":"Rectal mucosa","trait":"FastingGlucose","z":0.2},{"tissue":"Rectal mucosa","trait":"TG","z":-0.9},{"tissue":"Rectal mucosa","trait":"HDL","z":-0.1},{"tissue":"Rectal mucosa","trait":"LDL","z":0.7},
{"tissue":"Duodenum smooth muscle","trait":"Anorexia","z":0.0},{"tissue":"Duodenum smooth muscle","trait":"BMI","z":-1.8},{"tissue":"Duodenum smooth muscle","trait":"Smoking","z":-0.5},{"tissue":"Duodenum smooth muscle","trait":"BipolarDisease","z":-1.5},{"tissue":"Duodenum smooth muscle","trait":"Schizophrenia","z":-1.6},{"tissue":"Duodenum smooth muscle","trait":"Menarche","z":-1.6},{"tissue":"Duodenum smooth muscle","trait":"UC","z":0.4},{"tissue":"Duodenum smooth muscle","trait":"CD","z":0.3},{"tissue":"Duodenum smooth muscle","trait":"RA","z":0.0},{"tissue":"Duodenum smooth muscle","trait":"HEIGHT","z":0.5},{"tissue":"Duodenum smooth muscle","trait":"BC_ERneg","z":0.7},{"tissue":"Duodenum smooth muscle","trait":"BC_overall","z":0.5},{"tissue":"Duodenum smooth muscle","trait":"BC_ERpos","z":0.5},{"tissue":"Duodenum smooth muscle","trait":"CAD","z":0.1},{"tissue":"Duodenum smooth muscle","trait":"T2D","z":-0.5},{"tissue":"Duodenum smooth muscle","trait":"FastingGlucose","z":-0.3},{"tissue":"Duodenum smooth muscle","trait":"TG","z":-0.3},{"tissue":"Duodenum smooth muscle","trait":"HDL","z":0.3},{"tissue":"Duodenum smooth muscle","trait":"LDL","z":0.0},
{"tissue":"Skeletal muscle","trait":"Anorexia","z":-0.1},{"tissue":"Skeletal muscle","trait":"BMI","z":-0.1},{"tissue":"Skeletal muscle","trait":"Smoking","z":-0.3},{"tissue":"Skeletal muscle","trait":"BipolarDisease","z":0.8},{"tissue":"Skeletal muscle","trait":"Schizophrenia","z":-0.5},{"tissue":"Skeletal muscle","trait":"Menarche","z":0.0},{"tissue":"Skeletal muscle","trait":"UC","z":-0.4},{"tissue":"Skeletal muscle","trait":"CD","z":-0.4},{"tissue":"Skeletal muscle","trait":"RA","z":-0.7},{"tissue":"Skeletal muscle","trait":"HEIGHT","z":0.6},{"tissue":"Skeletal muscle","trait":"BC_ERneg","z":1.0},{"tissue":"Skeletal muscle","trait":"BC_overall","z":0.8},{"tissue":"Skeletal muscle","trait":"BC_ERpos","z":0.9},{"tissue":"Skeletal muscle","trait":"CAD","z":0.2},{"tissue":"Skeletal muscle","trait":"T2D","z":-0.3},{"tissue":"Skeletal muscle","trait":"FastingGlucose","z":0.1},{"tissue":"Skeletal muscle","trait":"TG","z":0.4},{"tissue":"Skeletal muscle","trait":"HDL","z":1.0},{"tissue":"Skeletal muscle","trait":"LDL","z":-0.3}
]
},
"hconcat": [
{
"data": {"name": "types"},
"width": 11,
"height": 315,
"mark": {"type": "rect"},
"encoding": {
"y": {"field": "tissue", "type": "nominal", "sort": null, "axis": null, "scale": {"paddingInner": 0, "paddingOuter": 0}},
"x": {"datum": "Cell Type", "type": "nominal", "scale": {"paddingInner": 0, "paddingOuter": 0},
"axis": {"title": null, "labelAngle": 90, "labelFontWeight": "bold", "labelFontSize": 13, "labelColor": "#111", "ticks": false, "domain": false, "labelPadding": 4, "labelFont": "Liberation Sans"}},
"color": {"field": "type", "type": "nominal",
"scale": {"domain": ["Adipose", "CNS", "Immune", "Other", "Gastrointestinal", "Adrenal/Pancreas", "Skeletal muscle"],
"range": ["#211c70", "#4f87c6", "#72bde6", "#35968a", "#166b32", "#978a2a", "#dbc667"]},
"legend": {"orient": "none", "legendX": 428, "legendY": 0, "title": "Cell Type", "titleFontSize": 12.5, "titleFontWeight": "bold", "titleColor": "#111", "titlePadding": 1, "symbolType": "square", "symbolSize": 272, "symbolStrokeWidth": 0, "symbolOpacity": 1, "rowPadding": 0, "labelFontSize": 12, "labelColor": "#222", "labelOffset": 3, "labelFont": "Liberation Sans", "titleFont": "Liberation Sans"}}
}
},
{
"data": {"name": "cells"},
"width": 268,
"height": 315,
"mark": {"type": "rect"},
"encoding": {
"x": {"field": "trait", "type": "nominal", "sort": null, "scale": {"paddingInner": 0, "paddingOuter": 0},
"axis": {"title": null, "orient": "bottom", "labelAngle": 90, "labelFontSize": 9.5, "labelColor": "#111", "ticks": false, "domain": false, "labelPadding": 3, "labelOverlap": false, "labelFont": "Liberation Sans"}},
"y": {"field": "tissue", "type": "nominal", "sort": null, "scale": {"paddingInner": 0, "paddingOuter": 0},
"axis": {"title": null, "orient": "right", "labelFontSize": 8.2, "labelColor": "#222", "ticks": false, "domain": false, "labelPadding": 4, "labelOverlap": false, "labelBound": false, "labelFont": "Liberation Sans"}},
"color": {"field": "z", "type": "quantitative",
"scale": {"domain": [-3.3, 0, 3.3], "range": ["#0000ff", "#ffffff", "#cc0000"], "interpolate": "rgb"},
"legend": {"orient": "none", "legendX": 379, "legendY": 0, "title": null, "direction": "vertical", "gradientLength": 174, "gradientThickness": 12, "gradientStrokeWidth": 0, "values": [-3, -2, -1, 0, 1, 2, 3], "labelFontSize": 12, "labelColor": "#222", "labelOffset": 4, "labelFont": "Liberation Sans"}}
}
}
],
"resolve": {"scale": {"color": "independent"}, "legend": {"color": "independent"}}
}
